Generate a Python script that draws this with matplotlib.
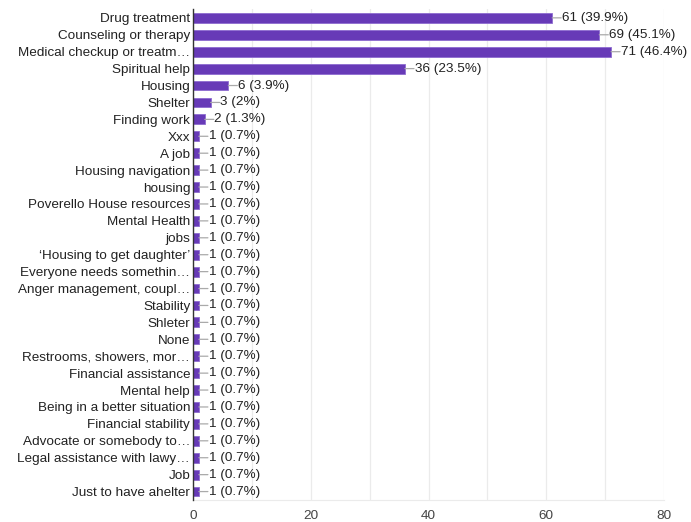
import matplotlib
matplotlib.use("Agg")
import matplotlib.pyplot as plt
import numpy as np

#  Answers, counts and number of respondents.
categories = [
    "Drug treatment", "Counseling or therapy", "Medical checkup or treatm\u2026",
    "Spiritual help", "Housing", "Shelter", "Finding work", "Xxx", "A job",
    "Housing navigation", "housing", "Poverello House resources", "Mental Health",
    "jobs", "\u2018Housing to get daughter\u2019", "Everyone needs somethin\u2026",
    "Anger management, coupl\u2026", "Stability", "Shleter", "None",
    "Restrooms, showers, mor\u2026", "Financial assistance", "Mental help",
    "Being in a better situation", "Financial stability", "Advocate or somebody to\u2026",
    "Legal assistance with lawy\u2026", "Job", "Just to have ahelter",
]
counts = [61, 69, 71, 36, 6, 3, 2] + [1] * 22
n_total = 153
x_ticks = [0, 20, 40, 60, 80]

plt.rcParams["font.family"] = ["Liberation Sans", "DejaVu Sans"]

fig = plt.figure(figsize=(6.91, 5.22), dpi=100)
ax = fig.add_axes([0.2793, 0.0421, 0.961 - 0.2793, 0.982 - 0.0421])

y = np.arange(len(categories))
ax.barh(y, counts, height=0.58, color="#673ab7", edgecolor="#8e6bd0", linewidth=0.6, zorder=3)

#  Value labels with a short connector line.
for yi, c in zip(y, counts):
    pct = "{:.1f}".format(100.0 * c / n_total)
    if pct.endswith(".0"):
        pct = pct[:-2]
    ax.annotate("", xy=(c, yi), xytext=(6.5, 0), textcoords="offset points",
                arrowprops=dict(arrowstyle="-", color="#aaaaaa", lw=0.9,
                                shrinkA=0, shrinkB=0), zorder=4)
    ax.annotate("%d (%s%%)" % (c, pct), xy=(c, yi), xytext=(7, 0),
                textcoords="offset points", va="center", ha="left",
                fontsize=9.7, color="#222222", zorder=5)

ax.set_ylim(len(categories) - 0.5, -0.5)
ax.set_xlim(0, 80)
ax.set_yticks(y)
ax.set_yticklabels(categories, fontsize=9.7, color="#222222")
ax.set_xticks(x_ticks)
ax.set_xticklabels([str(t) for t in x_ticks], fontsize=9.7, color="#444444")
ax.set_xticks(np.arange(0, 81, 10), minor=True)
ax.tick_params(axis="both", which="both", length=0)
ax.tick_params(axis="y", pad=2)
ax.tick_params(axis="x", pad=7)

ax.grid(axis="x", which="both", color="#ebebeb", linewidth=0.9, zorder=0)
ax.set_axisbelow(True)
for s in ["top", "right"]:
    ax.spines[s].set_visible(False)
ax.spines["bottom"].set_color("#ebebeb")
ax.spines["left"].set_color("#333333")
ax.spines["left"].set_linewidth(1.0)
ax.spines["left"].set_zorder(6)

fig.savefig("out.png", dpi=100)
